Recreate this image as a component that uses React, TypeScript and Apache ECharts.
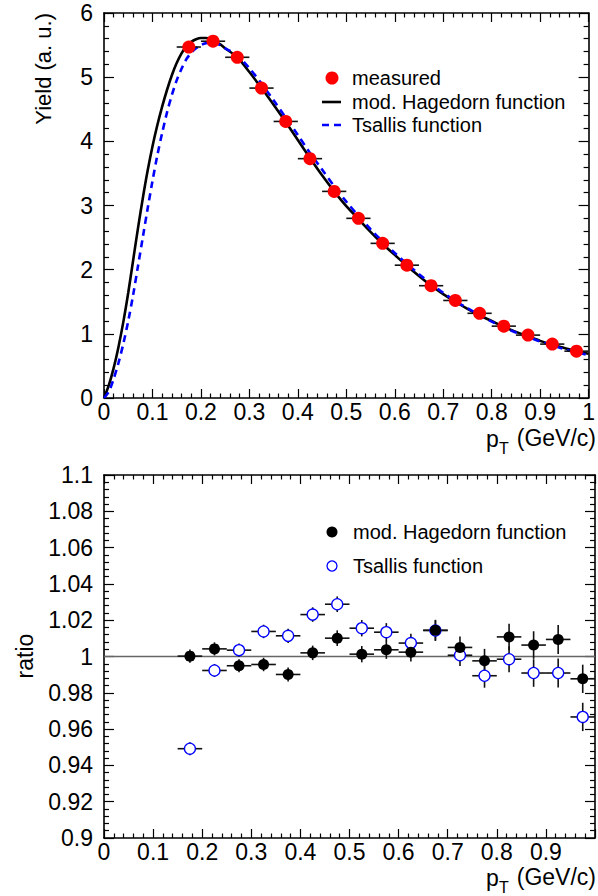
import React, { useEffect, useRef } from "react";
import * as echarts from "echarts";

// ---- data ----
const ptBins = [0.175, 0.225, 0.275, 0.325, 0.375, 0.425, 0.475, 0.525, 0.575, 0.625, 0.675, 0.725, 0.775, 0.825, 0.875, 0.925, 0.975];
const binHalfWidth = [0.025, 0.025, 0.025, 0.025, 0.025, 0.025, 0.025, 0.025, 0.025, 0.025, 0.025, 0.025, 0.025, 0.025, 0.025, 0.025, 0.025];
const measuredYield = [5.47, 5.56, 5.31, 4.83, 4.31, 3.73, 3.22, 2.80, 2.41, 2.07, 1.75, 1.52, 1.32, 1.12, 0.98, 0.84, 0.73];

const hagedornX = [0, 0.01, 0.02, 0.03, 0.04, 0.05, 0.06, 0.07, 0.08, 0.09, 0.1, 0.11, 0.12, 0.13, 0.14, 0.15, 0.16, 0.17, 0.18, 0.19, 0.2, 0.21, 0.22, 0.23, 0.24, 0.25, 0.275, 0.3, 0.325, 0.35, 0.375, 0.4, 0.425, 0.45, 0.475, 0.5, 0.525, 0.55, 0.575, 0.6, 0.625, 0.65, 0.675, 0.7, 0.725, 0.75, 0.775, 0.8, 0.825, 0.85, 0.875, 0.9, 0.925, 0.95, 0.975, 1.0];
const hagedornY = [0, 0.2, 0.47, 0.8, 1.19, 1.64, 2.14, 2.64, 3.11, 3.54, 3.92, 4.25, 4.54, 4.8, 5.03, 5.22, 5.37, 5.48, 5.55, 5.59, 5.61, 5.61, 5.59, 5.55, 5.51, 5.45, 5.31, 5.08, 4.83, 4.57, 4.30, 4.02, 3.74, 3.47, 3.22, 2.99, 2.79, 2.59, 2.40, 2.23, 2.06, 1.90, 1.75, 1.62, 1.50, 1.39, 1.29, 1.20, 1.11, 1.03, 0.96, 0.89, 0.83, 0.78, 0.73, 0.69];

const tsallisX = hagedornX;
const tsallisY = [0, 0.1, 0.3, 0.55, 0.85, 1.2, 1.6, 2.05, 2.5, 2.95, 3.38, 3.78, 4.13, 4.45, 4.72, 4.95, 5.13, 5.28, 5.38, 5.45, 5.5, 5.53, 5.54, 5.53, 5.5, 5.45, 5.34, 5.14, 4.9, 4.64, 4.37, 4.1, 3.82, 3.56, 3.3, 3.06, 2.84, 2.63, 2.44, 2.26, 2.09, 1.93, 1.78, 1.64, 1.51, 1.4, 1.29, 1.19, 1.1, 1.02, 0.95, 0.88, 0.82, 0.76, 0.71, 0.67];

const ratioHagedorn = [1.0002, 1.0042, 0.9949, 0.9956, 0.9901, 1.0020, 1.0101, 1.0013, 1.0037, 1.0024, 1.0145, 1.0050, 0.9976, 1.0108, 1.0063, 1.0094, 0.9877];
const ratioTsallis = [0.9492, 0.9923, 1.0035, 1.0138, 1.0114, 1.0231, 1.0288, 1.0156, 1.0134, 1.0074, 1.0143, 1.0007, 0.9894, 0.9985, 0.9909, 0.9909, 0.9667];
const ratioError = [0.0036, 0.0036, 0.0036, 0.0037, 0.0039, 0.0040, 0.0043, 0.0045, 0.0050, 0.0052, 0.0057, 0.0060, 0.0066, 0.0072, 0.0076, 0.0080, 0.0078];

const topYTicks = { min: 0, max: 6, interval: 1 };
const botYTicks = { min: 0.9, max: 1.1, interval: 0.02 };
const xTicks = { min: 0, max: 1, interval: 0.1 };

const FONT = "'Liberation Sans', Arial, Helvetica, sans-serif";
const TICK_FONT = 23;

function errorBarItem(params: any, api: any) {
  const x = api.value(0);
  const y = api.value(1);
  const ex = api.value(2);
  const ey = api.value(3);
  const l = api.coord([x - ex, y]);
  const r = api.coord([x + ex, y]);
  const children: any[] = [
    { type: "line", shape: { x1: l[0], y1: l[1], x2: r[0], y2: r[1] }, style: { stroke: "#111", lineWidth: 1.6 } },
  ];
  if (ey > 0) {
    const t = api.coord([x, y + ey]);
    const b = api.coord([x, y - ey]);
    children.push({ type: "line", shape: { x1: t[0], y1: t[1], x2: b[0], y2: b[1] }, style: { stroke: "#111", lineWidth: 1.6 } });
  }
  return { type: "group", children };
}

function makeX(gridIndex: number, position: "bottom" | "top", showLabels: boolean, hideLast: boolean) {
  return {
    type: "value",
    gridIndex,
    position,
    min: xTicks.min,
    max: xTicks.max,
    interval: xTicks.interval,
    axisLine: { show: true, onZero: false, lineStyle: { color: "#000", width: 1.6 } },
    axisTick: { show: true, inside: true, length: 9, lineStyle: { color: "#000", width: 1.2 } },
    minorTick: { show: true, splitNumber: 5, length: 4.5, lineStyle: { color: "#000", width: 1.2 } },
    splitLine: { show: false },
    axisLabel: {
      show: showLabels,
      color: "#000",
      fontSize: TICK_FONT,
      lineHeight: TICK_FONT,
      fontFamily: FONT,
      margin: 2,
      showMaxLabel: true,
      showMinLabel: true,
      formatter: (v: number) => (hideLast && v > 0.95 ? "" : String(+v.toFixed(2))),
    },
  };
}

function makeY(gridIndex: number, position: "left" | "right", showLabels: boolean, t: any) {
  return {
    type: "value",
    gridIndex,
    position,
    min: t.min,
    max: t.max,
    interval: t.interval,
    axisLine: { show: true, onZero: false, lineStyle: { color: "#000", width: 1.6 } },
    axisTick: { show: true, inside: true, length: 10, lineStyle: { color: "#000", width: 1.2 } },
    minorTick: { show: true, splitNumber: 5, length: 5, lineStyle: { color: "#000", width: 1.2 } },
    splitLine: { show: false },
    axisLabel: {
      show: showLabels,
      color: "#000",
      fontSize: TICK_FONT,
      lineHeight: TICK_FONT,
      fontFamily: FONT,
      margin: 11,
      formatter: (v: number) => String(+v.toFixed(3)),
    },
  };
}

export default function App() {
  const ref = useRef<HTMLDivElement>(null);
  useEffect(() => {
    if (!ref.current) return;
    const chart = echarts.init(ref.current, null, { renderer: "svg" });

    const measuredData = ptBins.map((x, i) => [x, measuredYield[i]]);
    const measuredErr = ptBins.map((x, i) => [x, measuredYield[i], binHalfWidth[i], 0]);
    const hagData = hagedornX.map((x, i) => [x, hagedornY[i]]);
    const tsaData = tsallisX.map((x, i) => [x, tsallisY[i]]);
    const rHag = ptBins.map((x, i) => [x, ratioHagedorn[i]]);
    const rTsa = ptBins.map((x, i) => [x, ratioTsallis[i]]);
    const rHagErr = ptBins.map((x, i) => [x, ratioHagedorn[i], binHalfWidth[i], ratioError[i]]);
    const rTsaErr = ptBins.map((x, i) => [x, ratioTsallis[i], binHalfWidth[i], ratioError[i]]);

    const ts = (fontSize: number) => ({ fill: "#000", fontSize, fontFamily: FONT, lineHeight: fontSize });

    const ptTitle = (yc: number) => [
      { type: "text", x: 596, y: yc, style: { ...ts(23), text: "(GeV/c)", align: "right", verticalAlign: "middle" } },
      { type: "text", x: 486, y: yc + 1, style: { ...ts(23), text: "p", align: "left", verticalAlign: "middle" } },
      { type: "text", x: 499, y: yc + 10, style: { ...ts(16), text: "T", align: "left", verticalAlign: "middle" } },
    ];

    chart.setOption({
      animation: false,
      backgroundColor: "#fff",
      grid: [
        { left: 104, top: 13, width: 493, height: 385 },
        { left: 104, top: 475, width: 493, height: 363 },
      ],
      xAxis: [
        makeX(0, "bottom", true, false),
        makeX(0, "top", false, false),
        makeX(1, "bottom", true, true),
        makeX(1, "top", false, false),
      ],
      yAxis: [
        makeY(0, "left", true, topYTicks),
        makeY(0, "right", false, topYTicks),
        makeY(1, "left", true, botYTicks),
        makeY(1, "right", false, botYTicks),
      ],
      series: [
        {
          name: "mod. Hagedorn function",
          type: "line",
          xAxisIndex: 0,
          yAxisIndex: 0,
          data: hagData,
          showSymbol: false,
          smooth: 0.3,
          lineStyle: { color: "#000", width: 2.6 },
          z: 2,
        },
        {
          name: "Tsallis function",
          type: "line",
          xAxisIndex: 0,
          yAxisIndex: 0,
          data: tsaData,
          showSymbol: false,
          smooth: 0.3,
          lineStyle: { color: "#0000ff", width: 2.6, type: [7, 5] },
          z: 3,
        },
        {
          type: "custom",
          xAxisIndex: 0,
          yAxisIndex: 0,
          data: measuredErr,
          encode: { x: 0, y: 1 },
          renderItem: errorBarItem,
          z: 4,
        },
        {
          name: "measured",
          type: "scatter",
          xAxisIndex: 0,
          yAxisIndex: 0,
          data: measuredData,
          symbol: "circle",
          symbolSize: 13,
          itemStyle: { color: "#ff0000", opacity: 1 },
          z: 5,
        },
        {
          type: "line",
          xAxisIndex: 2,
          yAxisIndex: 2,
          data: [[0, 1], [1, 1]],
          showSymbol: false,
          lineStyle: { color: "#666", width: 1.6 },
          z: 1,
        },
        {
          type: "custom",
          xAxisIndex: 2,
          yAxisIndex: 2,
          data: rTsaErr,
          encode: { x: 0, y: 1 },
          renderItem: errorBarItem,
          z: 2,
        },
        {
          type: "custom",
          xAxisIndex: 2,
          yAxisIndex: 2,
          data: rHagErr,
          encode: { x: 0, y: 1 },
          renderItem: errorBarItem,
          z: 2,
        },
        {
          name: "Tsallis ratio",
          type: "scatter",
          xAxisIndex: 2,
          yAxisIndex: 2,
          data: rTsa,
          symbol: "circle",
          symbolSize: 11,
          itemStyle: { color: "#fff", borderColor: "#0000ff", borderWidth: 1.3, opacity: 1 },
          z: 3,
        },
        {
          name: "Hagedorn ratio",
          type: "scatter",
          xAxisIndex: 2,
          yAxisIndex: 2,
          data: rHag,
          symbol: "circle",
          symbolSize: 11,
          itemStyle: { color: "#000", opacity: 1 },
          z: 4,
        },
      ],
      graphic: [
        // axis titles
        { type: "text", x: 43, y: 13, rotation: Math.PI / 2, style: { ...ts(22), text: "Yield (a. u.)", align: "right", verticalAlign: "middle" } },
        { type: "text", x: 25, y: 656, rotation: Math.PI / 2, style: { ...ts(23), text: "ratio", align: "center", verticalAlign: "middle" } },
        ...ptTitle(438),
        ...ptTitle(877),
        // top legend
        { type: "circle", shape: { cx: 332, cy: 78, r: 6.5 }, style: { fill: "#ff0000" } },
        { type: "text", x: 352, y: 78, style: { ...ts(20), text: "measured", verticalAlign: "middle" } },
        { type: "line", shape: { x1: 322, y1: 102, x2: 341, y2: 102 }, style: { stroke: "#000", lineWidth: 2.6 } },
        { type: "text", x: 352, y: 102, style: { ...ts(20), text: "mod. Hagedorn function", verticalAlign: "middle" } },
        { type: "line", shape: { x1: 322, y1: 125, x2: 341, y2: 125 }, style: { stroke: "#0000ff", lineWidth: 2.6, lineDash: [7, 5] } },
        { type: "text", x: 352, y: 125, style: { ...ts(20), text: "Tsallis function", verticalAlign: "middle" } },
        // bottom legend
        { type: "circle", shape: { cx: 332, cy: 532, r: 5.5 }, style: { fill: "#000" } },
        { type: "text", x: 353, y: 532, style: { ...ts(20), text: "mod. Hagedorn function", verticalAlign: "middle" } },
        { type: "circle", shape: { cx: 332, cy: 566, r: 5 }, style: { fill: "#fff", stroke: "#0000ff", lineWidth: 1.3 } },
        { type: "text", x: 353, y: 566, style: { ...ts(20), text: "Tsallis function", verticalAlign: "middle" } },
      ],
    });
    return () => chart.dispose();
  }, []);
  return <div ref={ref} style={{ position: "absolute", left: 0, top: 0, width: 598, height: 896, background: "#fff" }} />;
}
